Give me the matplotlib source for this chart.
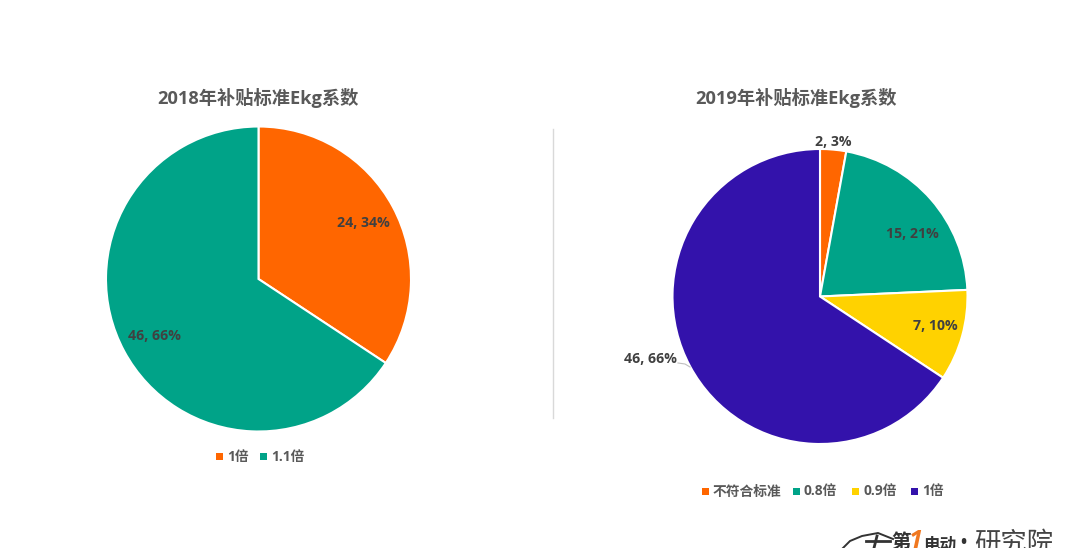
import matplotlib
matplotlib.use("Agg")
import matplotlib.pyplot as plt
import matplotlib.patches as mpatches
from matplotlib.lines import Line2D

# Open Sans for the latin part, CJK family picks up the rest
plt.rcParams["font.family"] = ["Open Sans", "Noto Sans CJK SC", "DejaVu Sans"]

W, H = 1080, 548

# ── Data ──────────────────────────────────────────────────────────────────────
title_2018 = "2018年补贴标准Ekg系数"
names_2018 = ["1倍", "1.1倍"]
values_2018 = [24, 46]
percents_2018 = [34, 66]
colors_2018 = ["#FF6600", "#00A388"]

title_2019 = "2019年补贴标准Ekg系数"
names_2019 = ["不符合标准", "0.8倍", "0.9倍", "1倍"]
values_2019 = [2, 15, 7, 46]
percents_2019 = [3, 21, 10, 66]
colors_2019 = ["#FF6600", "#00A388", "#FFD200", "#3312AB"]

TITLE_COLOR = "#595959"
LABEL_COLOR = "#404040"


def px_x(x):
    return x / W


def px_y(y):
    return 1 - y / H


def draw_pie(fig, values, colors, cx, cy, r):
    ax = fig.add_axes([(cx - r) / W, 1 - (cy + r) / H, 2 * r / W, 2 * r / H])
    ax.pie(values, colors=colors, startangle=90, counterclock=False, radius=1,
           wedgeprops={"edgecolor": "white", "linewidth": 1.5})
    ax.set_xlim(-1, 1)
    ax.set_ylim(-1, 1)
    return ax


def draw_legend(fig, names, colors, x, y, gaps):
    # hand placed so the swatches land where the reference has them
    for name, color, gap in zip(names, colors, gaps):
        fig.patches.append(mpatches.Rectangle(
            (px_x(x), px_y(y + 3.5)), 7 / W, 7 / H, transform=fig.transFigure,
            facecolor=color, edgecolor="none"))
        fig.text(px_x(x + 11), px_y(y + 0.5), name, fontsize=9.9, fontweight="bold",
                 color=TITLE_COLOR, ha="left", va="center")
        x += gap


fig = plt.figure(figsize=(W / 100, H / 100), dpi=100, facecolor="white")

# ── Left pie ──────────────────────────────────────────────────────────────────
draw_pie(fig, values_2018, colors_2018, 258.5, 279, 152.5)
fig.text(px_x(258), px_y(98), title_2018, fontsize=13.15, fontweight="bold",
         color=TITLE_COLOR, ha="center", va="center")
for v, p, (x, y) in zip(values_2018, percents_2018, [(363, 223), (154, 336)]):
    fig.text(px_x(x), px_y(y), f"{v}, {p}%", fontsize=10.2, fontweight="bold",
             color=LABEL_COLOR, ha="center", va="center")
draw_legend(fig, names_2018, colors_2018, 216, 456, [44, 0])

# ── Divider ───────────────────────────────────────────────────────────────────
fig.add_artist(Line2D([px_x(553), px_x(553)], [px_y(129), px_y(418)],
                      color="#D9D9D9", lw=1))

# ── Right pie ─────────────────────────────────────────────────────────────────
draw_pie(fig, values_2019, colors_2019, 820, 296.5, 147.5)
fig.text(px_x(796), px_y(98), title_2019, fontsize=13.15, fontweight="bold",
         color=TITLE_COLOR, ha="center", va="center")
label_pos_2019 = [(833, 142), (912, 234), (935, 326), (650, 359)]
for v, p, (x, y) in zip(values_2019, percents_2019, label_pos_2019):
    fig.text(px_x(x), px_y(y), f"{v}, {p}%", fontsize=10.2, fontweight="bold",
             color=LABEL_COLOR, ha="center", va="center")
fig.add_artist(Line2D([px_x(678), px_x(685), px_x(690)],
                      [px_y(363), px_y(364), px_y(367)],
                      color="#BFBFBF", lw=0.8))
draw_legend(fig, names_2019, colors_2019, 702, 491, [91, 59, 59, 0])

# ── Logo, cut off by the bottom edge like the reference ───────────────────────
fig.text(px_x(901), px_y(543), "第", fontsize=14, fontweight="bold",
         color="#333333", ha="center", va="center")
fig.text(px_x(916), px_y(541), "1", fontsize=18, fontweight="bold", style="italic",
         color="#F07820", ha="center", va="center")
fig.text(px_x(940), px_y(545), "电动", fontsize=12, fontweight="bold",
         color="#333333", ha="center", va="center")
fig.text(px_x(963), px_y(543), "•", fontsize=12, fontweight="bold",
         color="#333333", ha="center", va="center")
fig.text(px_x(1014), px_y(544), "研究院", fontsize=19, color="#444444",
         ha="center", va="center")
fig.add_artist(Line2D(
    [px_x(843), px_x(850), px_x(862), px_x(878), px_x(888), px_x(893)],
    [px_y(548), px_y(541), px_y(536), px_y(533), px_y(537), px_y(539)],
    color="#333333", lw=1.4))
fig.add_artist(Line2D([px_x(866), px_x(890)], [px_y(541), px_y(541)],
                      color="#333333", lw=2))
fig.add_artist(Line2D([px_x(877), px_x(874)], [px_y(536), px_y(548)],
                      color="#333333", lw=2))

fig.savefig("out.png", dpi=100, facecolor="white")
plt.close(fig)
